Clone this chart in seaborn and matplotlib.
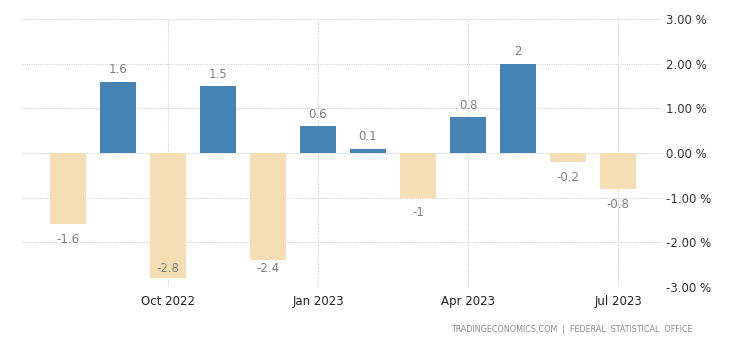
import matplotlib
matplotlib.use("Agg")
import matplotlib.pyplot as plt
import seaborn as sns
import pandas as pd

months = ["Aug 2022", "Sep 2022", "Oct 2022", "Nov 2022", "Dec 2022", "Jan 2023",
          "Feb 2023", "Mar 2023", "Apr 2023", "May 2023", "Jun 2023", "Jul 2023"]
values = [-1.6, 1.6, -2.8, 1.5, -2.4, 0.6, 0.1, -1.0, 0.8, 2.0, -0.2, -0.8]
value_labels = ["-1.6", "1.6", "-2.8", "1.5", "-2.4", "0.6", "0.1", "-1", "0.8", "2", "-0.2", "-0.8"]
xtick_labels = ["Oct 2022", "Jan 2023", "Apr 2023", "Jul 2023"]
ytick_values = [-3, -2, -1, 0, 1, 2, 3]
footer = "TRADINGECONOMICS.COM  |  FEDERAL  STATISTICAL  OFFICE"

sns.set_style("white")
plt.rcParams['font.family'] = ['DejaVu Sans']

POS = "#4682b4"
NEG = "#f5deb3"
colors = [POS if v >= 0 else NEG for v in values]

df = pd.DataFrame({"month": months, "value": values})

fig = plt.figure(figsize=(7.4, 3.45), dpi=100)
ax = fig.add_axes([22/740, 1 - 287/345, (662 - 22)/740, (287 - 19)/345])

sns.barplot(data=df, x="month", y="value", hue="month", palette=colors,
            legend=False, width=0.72, saturation=1, ax=ax, zorder=3,
            linewidth=0)

ax.set_xlim(-0.92, 11.88)
ax.set_ylim(-3, 3)

for s in ax.spines.values():
    s.set_visible(False)

ax.set_yticks(ytick_values)
ax.set_yticklabels([f"{v:.2f} %" for v in ytick_values])
ax.yaxis.tick_right()
ax.tick_params(axis="y", length=0, pad=3, labelsize=8.5, labelcolor="#333333")

tick_pos = [months.index(m) for m in ["Oct 2022", "Jan 2023", "Apr 2023", "Jul 2023"]]
ax.set_xticks(tick_pos)
ax.set_xticklabels(xtick_labels)
ax.tick_params(axis="x", length=4, width=0.8, color="#d8d8d8", pad=2,
               labelsize=8.5, labelcolor="#222222")
ax.set_xlabel("")
ax.set_ylabel("")

ax.grid(True, which="major", axis="both", linestyle=(0, (1, 1)), color="#d4d4d4",
        linewidth=0.8, zorder=0)
ax.set_axisbelow(True)

for i, (v, lab) in enumerate(zip(values, value_labels)):
    if v >= 0:
        ax.annotate(lab, xy=(i, v), xytext=(0, 8.6), textcoords="offset points",
                    ha="center", va="center", fontsize=8.5, color="#7f7f7f", zorder=5)
    else:
        anchor = max(v, -2.25)
        ax.annotate(lab, xy=(i, anchor), xytext=(0, -11), textcoords="offset points",
                    ha="center", va="center", fontsize=8.5, color="#7f7f7f", zorder=5)

fig.text(693/740, 1 - 330/345, footer, ha="right", va="center",
         fontsize=5.8, color="#8a8a8a")

fig.savefig("out.png", dpi=100)
